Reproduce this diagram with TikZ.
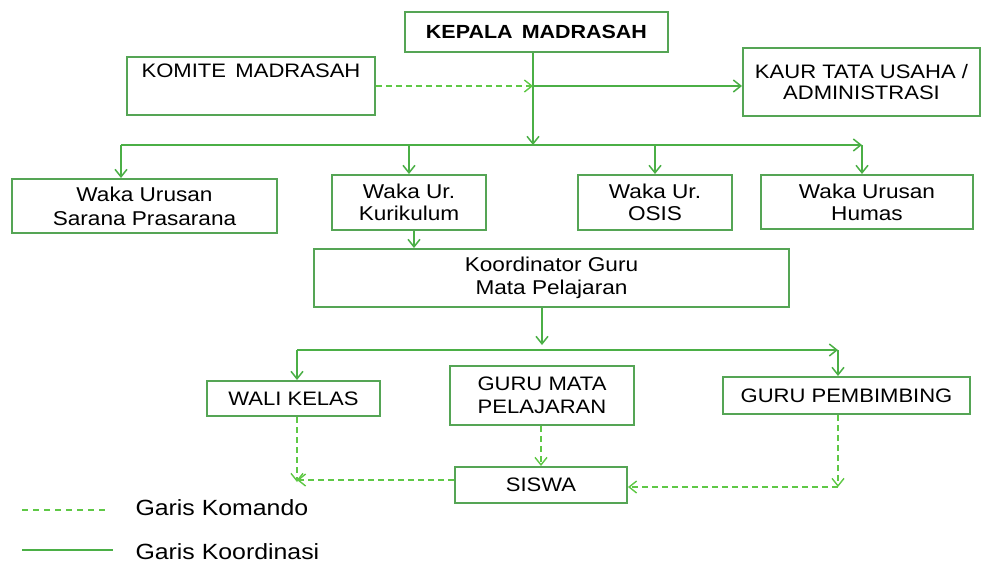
\documentclass[tikz,border=0pt]{standalone}
\usepackage{fontspec}
\setmainfont{Liberation Sans}[FakeStretch=1.13]
\usetikzlibrary{arrows.meta}
\definecolor{boxgreen}{RGB}{85,165,85}
\definecolor{linegreen}{RGB}{75,175,70}
\definecolor{dashgreen}{RGB}{95,200,70}
\tikzset{
  orgbox/.style={draw=boxgreen, line width=2pt, rectangle, inner sep=0pt, align=center,
    font=\fontsize{20}{24}\selectfont, text=black},
  solidcon/.style={draw=linegreen, line width=1.8pt, -{Straight Barb[length=7.5pt,width=12pt,line width=1.5pt]}},
  plaincon/.style={draw=linegreen, line width=1.8pt},
  dashcon/.style={draw=dashgreen, line width=1.6pt, dash pattern=on 6pt off 4pt, -{Straight Barb[length=7.5pt,width=12pt,line width=1.4pt]}},
  legtext/.style={anchor=west, font=\fontsize{22}{26}\selectfont, text=black}
}
\begin{document}
\begin{tikzpicture}[x=1pt,y=-1pt]
\useasboundingbox (0,0) rectangle (982,566);
% boxes
\node[orgbox, minimum width=263, minimum height=40, font=\fontsize{19}{23}\selectfont\bfseries] (kepala) at (536.5,32) {KEPALA\, MADRASAH};
\node[orgbox, minimum width=248, minimum height=58, font=\fontsize{19.5}{23}\selectfont] (komite) at (251,86) {KOMITE\, MADRASAH\\ \strut};
\node[orgbox, minimum width=237, minimum height=68, font=\fontsize{19.5}{21}\selectfont] (kaur) at (861.5,82) {KAUR TATA USAHA /\\ADMINISTRASI};
\node[orgbox, minimum width=265, minimum height=54] (sarana) at (144.5,206) {Waka Urusan\\Sarana Prasarana};
\node[orgbox, minimum width=154, minimum height=55, font=\fontsize{20}{22}\selectfont] (kurikulum) at (409,202.5) {Waka Ur.\\Kurikulum};
\node[orgbox, minimum width=154, minimum height=55, font=\fontsize{20}{22}\selectfont] (osis) at (655,202.5) {Waka Ur.\\OSIS};
\node[orgbox, minimum width=212, minimum height=54, font=\fontsize{20}{22}\selectfont] (humas) at (867,202) {Waka Urusan\\Humas};
\node[orgbox, minimum width=475, minimum height=58, font=\fontsize{20}{23}\selectfont] (koord) at (551.5,278) {Koordinator Guru\\Mata Pelajaran};
\node[orgbox, minimum width=173, minimum height=35, font=\fontsize{19.5}{23}\selectfont] (wali) at (293.5,398.5) {WALI KELAS};
\node[orgbox, minimum width=184, minimum height=59, font=\fontsize{19.5}{23}\selectfont] (gmp) at (542,395.5) {GURU MATA\\PELAJARAN};
\node[orgbox, minimum width=247, minimum height=37, font=\fontsize{19.5}{23}\selectfont] (gp) at (846.5,395.5) {GURU PEMBIMBING};
\node[orgbox, minimum width=172, minimum height=36, font=\fontsize{19.5}{23}\selectfont] (siswa) at (541,485) {SISWA};
% coordinates
\coordinate (j1) at (533,86);
\coordinate (b1L) at (121,145);
\coordinate (b1R) at (862,145);
\coordinate (b1K) at (533,145);
\coordinate (kx) at (414,0);
\coordinate (b2K) at (542,345);
\coordinate (b2L) at (297,350);
\coordinate (b2R) at (838,350);
\coordinate (c1) at (297,480);
\coordinate (c2) at (838,487);
% top connectors
\draw[solidcon] (kepala.south -| j1) -- (b1K);
\draw[dashcon] (komite.east |- j1) -- (j1);
\draw[solidcon] (j1) -- (kaur.west |- j1);
\draw[solidcon] (b1L) -- (b1R);
\draw[solidcon] (b1L) -- (b1L |- sarana.north);
\draw[solidcon] (kurikulum.north |- b1L) -- (kurikulum.north);
\draw[solidcon] (osis.north |- b1L) -- (osis.north);
\draw[solidcon] (b1R) -- (b1R |- humas.north);
\draw[solidcon] (kurikulum.south -| kx) -- (koord.north -| kx);
% middle
\draw[solidcon] (koord.south -| b2K) -- (b2K);
\draw[solidcon] (b2L) -- (b2R);
\draw[solidcon] (b2L) -- (b2L |- wali.north);
\draw[solidcon] (b2R) -- (b2R |- gp.north);
% dashed to siswa
\draw[dashcon] (wali.south -| c1) -- ([yshift=-2]c1);
\draw[dashcon] (siswa.west |- c1) -- (c1);
\draw[dashcon] (gmp.south -| siswa.north) -- (siswa.north);
\draw[dashcon] (gp.south -| c2) -- (c2);
\draw[dashcon] (c2) -- (siswa.east |- c2);
% legend
\coordinate (l1a) at (22,510);
\coordinate (l1b) at (105,510);
\coordinate (l2a) at (22,550);
\coordinate (l2b) at (113,550);
\draw[draw=dashgreen, line width=1.4pt, dash pattern=on 6pt off 5pt] (l1a) -- (l1b);
\draw[plaincon] (l2a) -- (l2b);
\node[legtext] (lk) at (132,508) {Garis Komando};
\node[legtext] (lko) at (132,552) {Garis Koordinasi};
\end{tikzpicture}
\end{document}
